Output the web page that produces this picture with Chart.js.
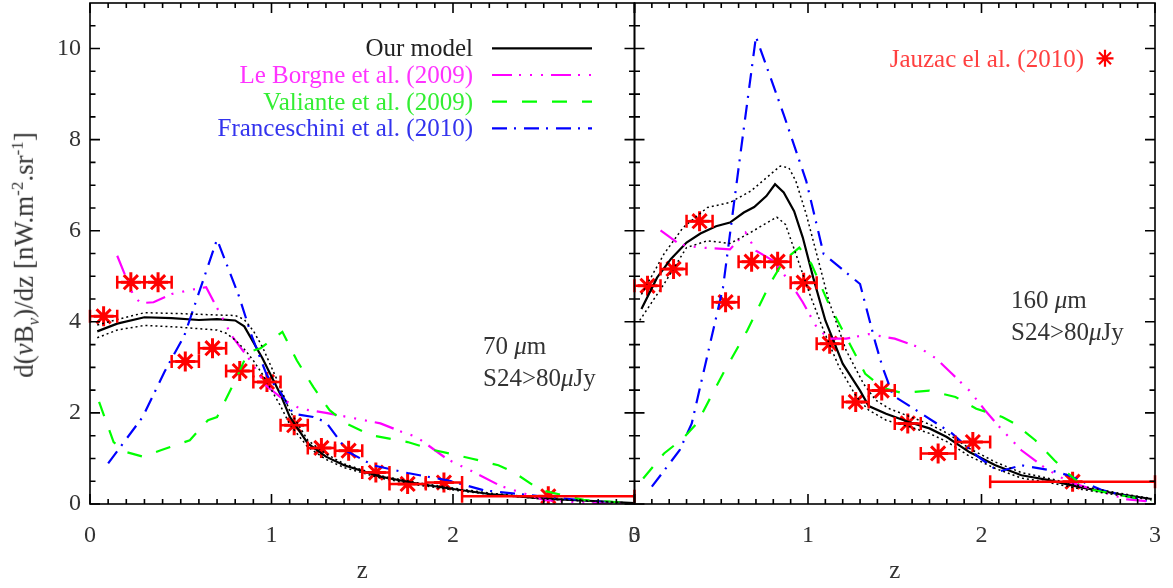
<!DOCTYPE html>
<html><head><meta charset="utf-8">
<script src="https://cdn.jsdelivr.net/npm/chart.js@4.4.0/dist/chart.umd.min.js"></script>
<style>
html,body{margin:0;padding:0;background:#fff;}
#wrap{position:relative;width:1173px;height:588px;overflow:hidden;background:#fff;}
#wrap canvas{position:absolute;left:0;top:0;}
#ylab{position:absolute;left:26px;top:255px;white-space:nowrap;font-family:"Liberation Serif",serif;font-size:27px;color:#333;
 transform:translate(-50%,-50%) rotate(-90deg);line-height:30px;}
#ylab sup,#ylab sub{font-size:17px;}
</style></head><body>
<div id="wrap">
<canvas id="c1" width="1173" height="588" style="width:1173px;height:588px"></canvas>
<canvas id="c2" width="1173" height="588" style="width:1173px;height:588px"></canvas>
<div id="ylab">d(<i>ν</i>B<sub><i>ν</i></sub>)/dz [nW.m<sup>-2</sup>.sr<sup>-1</sup>]</div>
</div>
<script>
// ---------- tick labels ----------
const xTickVals = [0, 1, 2, 3];
const yTickVals = [0, 2, 4, 6, 8, 10];

// ---------- Jauzac et al. (2010) observed points (bins in z) ----------
const binLo = [0.00,0.15,0.30,0.45,0.60,0.75,0.90,1.05,1.20,1.35,1.50,1.65,1.85,2.05];
const binHi = [0.15,0.30,0.45,0.60,0.75,0.90,1.05,1.20,1.35,1.50,1.65,1.85,2.05,3.00];
const zObs  = [0.075,0.225,0.375,0.525,0.675,0.825,0.975,1.125,1.275,1.425,1.575,1.75,1.95,2.525];
const obs70  = [4.12,4.87,4.87,3.13,3.42,2.92,2.68,1.73,1.23,1.17,0.69,0.44,0.47,0.17];
const obs160 = [4.79,5.16,6.21,4.43,5.32,5.32,4.86,3.52,2.24,2.49,1.77,1.11,1.36,0.49];

// ---------- 70 micron panel ----------
const model70Z = [0.04,0.15,0.3,0.45,0.6,0.7,0.8,0.85,0.9,0.95,1.0,1.05,1.1,1.2,1.3,1.4,1.6,1.8,2.0,2.2,2.5,2.8,3.0];
const model70  = [3.79,3.96,4.1,4.08,4.04,4.06,4.03,3.9,3.55,3.2,2.8,2.4,1.92,1.33,1.04,0.85,0.6,0.45,0.33,0.22,0.12,0.06,0.02];
const up70Z = [0.04,0.15,0.3,0.5,0.7,0.8,0.85,0.9,0.95,1.0,1.05,1.1,1.2,1.3,1.4,1.6,1.8,2.0,2.2,2.5,2.8,3.0];
const up70  = [3.93,4.05,4.2,4.18,4.15,4.14,4.05,3.8,3.45,3.0,2.55,2.05,1.4,1.1,0.88,0.62,0.47,0.35,0.24,0.13,0.06,0.02];
const lo70Z = [0.04,0.15,0.3,0.5,0.7,0.75,0.8,0.85,0.9,0.95,1.0,1.05,1.1,1.2,1.3,1.4,1.6,1.8,2.0,2.2,2.5,2.8,3.0];
const lo70  = [3.65,3.82,3.92,3.88,3.82,3.75,3.6,3.4,3.15,2.85,2.5,2.15,1.75,1.25,0.98,0.8,0.57,0.42,0.31,0.21,0.11,0.05,0.02];
const lb70Z = [0.15,0.24,0.28,0.35,0.45,0.58,0.64,0.78,0.89,0.97,1.07,1.16,1.3,1.42,1.6,1.72,1.8,1.97,2.13,2.26,2.5,2.7,2.95];
const lb70  = [5.45,4.57,4.41,4.43,4.61,4.72,4.76,3.7,3.11,2.6,2.28,2.09,2.0,1.91,1.77,1.58,1.47,0.98,0.67,0.4,0.09,0.03,0.0];
const va70Z = [0.05,0.13,0.2,0.29,0.39,0.55,0.65,0.7,0.81,0.87,0.94,1.06,1.14,1.23,1.32,1.42,1.55,1.75,1.9,2.1,2.25,2.33,2.48,2.72,2.95];
const va70  = [2.24,1.36,1.14,1.04,1.18,1.40,1.84,1.91,2.79,3.33,3.42,3.78,3.15,2.57,2.06,1.75,1.51,1.36,1.18,1.0,0.85,0.71,0.31,0.09,0.03];
const fr70Z = [0.1,0.29,0.41,0.52,0.7,0.82,0.89,0.975,1.05,1.12,1.23,1.3,1.42,1.56,1.75,1.97,2.17,2.5,2.87];
const fr70  = [0.89,1.91,2.9,3.7,5.81,4.57,3.7,2.82,2.45,1.98,1.91,1.80,1.15,0.85,0.68,0.52,0.3,0.16,0.03];

// ---------- 160 micron panel ----------
const model160Z = [0.04,0.13,0.21,0.3,0.38,0.47,0.55,0.63,0.69,0.76,0.81,0.86,0.92,0.97,1.03,1.1,1.2,1.3,1.35,1.45,1.58,1.7,1.8,1.93,2.08,2.23,2.38,2.58,2.79,2.98];
const model160  = [4.28,4.97,5.38,5.74,5.94,6.10,6.18,6.40,6.52,6.76,7.02,6.84,6.43,5.85,4.97,4.03,3.08,2.49,2.15,1.98,1.80,1.66,1.47,1.14,0.85,0.63,0.53,0.36,0.22,0.11];
const up160Z = [0.04,0.17,0.28,0.42,0.55,0.67,0.84,0.89,0.93,0.99,1.05,1.12,1.22,1.32,1.39,1.47,1.6,1.7,1.8,1.93,2.08,2.23,2.38,2.58,2.79,2.98];
const up160  = [4.6,5.49,6.07,6.51,6.62,6.87,7.42,7.38,7.09,6.36,5.49,4.46,3.37,2.64,2.28,2.09,1.9,1.75,1.56,1.22,0.92,0.69,0.57,0.39,0.24,0.12];
const lo160Z = [0.03,0.17,0.3,0.42,0.55,0.65,0.82,0.87,0.93,1.01,1.09,1.18,1.28,1.35,1.45,1.6,1.7,1.8,1.93,2.08,2.23,2.38,2.58,2.79,2.98];
const lo160  = [4.03,4.83,5.63,5.78,5.72,5.92,6.30,6.14,5.49,4.61,3.81,3.0,2.35,2.06,1.84,1.68,1.55,1.37,1.05,0.78,0.57,0.48,0.32,0.19,0.09];
const lb160Z = [0.15,0.26,0.38,0.55,0.64,0.7,0.8,0.89,0.97,1.05,1.12,1.22,1.35,1.5,1.64,1.74,1.83,1.93,2.02,2.12,2.23,2.37,2.5,2.69,2.84,2.98];
const lb160  = [6.01,5.70,5.63,5.59,5.96,5.56,5.34,4.90,4.43,3.88,3.63,3.63,3.73,3.63,3.44,3.19,2.86,2.49,2.06,1.62,1.18,0.78,0.49,0.27,0.10,0.05];
const va160Z = [0.05,0.17,0.28,0.36,0.51,0.65,0.78,0.86,0.95,1.02,1.12,1.24,1.33,1.43,1.54,1.7,1.85,1.97,2.12,2.19,2.31,2.42,2.5,2.6,2.79,2.98];
const va160  = [0.56,1.11,1.44,1.77,2.86,3.81,4.83,5.34,5.63,5.27,4.39,3.52,2.86,2.55,2.44,2.49,2.35,2.09,1.91,1.77,1.40,0.96,0.67,0.34,0.20,0.07];
const fr160Z = [0.1,0.26,0.33,0.51,0.61,0.7,0.86,0.99,1.09,1.3,1.39,1.43,1.49,1.64,1.83,1.98,2.1,2.23,2.4,2.5,2.69,2.98];
const fr160  = [0.38,1.18,1.77,4.75,7.67,10.26,8.55,7.09,5.49,4.83,3.52,3.0,2.38,2.02,1.55,1.04,0.71,0.85,0.74,0.63,0.31,0.04];

// ---------- legend ----------
const legendNames  = ['Our model','Le Borgne et al. (2009)','Valiante et al. (2009)','Franceschini et al. (2010)'];
const legendText   = ['#222222','#ff33ff','#33ee33','#3333ee'];
const lineColors   = ['#000000','#ff00ff','#00ff00','#0000ff'];
const lineDashes   = [[], [20,7,2,9,2,9,2,8], [15,15], [15,7,2,8]];
const obsName = 'Jauzac el al. (2010)';

const FONT = '"Liberation Serif", "Times New Roman", serif';
const pts = (zs, vs) => zs.map((z, i) => ({x: z, y: vs[i]}));

function lineDS(zs, vs, k, extra) {
  return Object.assign({data: pts(zs, vs), borderColor: lineColors[k], borderWidth: 2.2,
    borderDash: lineDashes[k], pointRadius: 0, fill: false, tension: 0}, extra || {});
}
function dotDS(zs, vs) {
  return {data: pts(zs, vs), borderColor: '#000', borderWidth: 1.5, borderDash: [2, 3],
    pointRadius: 0, fill: false, tension: 0};
}
function obsDS(vals) {
  return {data: pts(zObs, vals), showLine: false, pointStyle: 'star', pointRadius: 10,
    pointBorderColor: '#ff0000', pointBorderWidth: 3, borderColor: '#ff0000', backgroundColor: '#ff0000',
    errLo: binLo, errHi: binHi};
}

function drawRich(ctx, parts, x, y, size) {
  let cx = x;
  parts.forEach(([t, it]) => {
    ctx.font = (it ? 'italic ' : '') + size + 'px ' + FONT;
    ctx.fillText(t, cx, y);
    cx += ctx.measureText(t).width;
  });
}

const framePlugin = {
  id: 'frame',
  afterDraw(chart) {
    const {ctx, chartArea: a, scales: {x, y}} = chart;
    ctx.save();
    ctx.strokeStyle = '#000'; ctx.lineWidth = 1.6; ctx.setLineDash([]);
    ctx.strokeRect(a.left, a.top, a.right - a.left, a.bottom - a.top);
    ctx.beginPath();
    for (let i = 0; i <= 30; i++) {
      const v = i / 10, px = x.getPixelForValue(v);
      const L = (i % 10 === 0) ? 10 : 5;
      ctx.moveTo(px, a.bottom); ctx.lineTo(px, a.bottom - L);
      ctx.moveTo(px, a.top); ctx.lineTo(px, a.top + L);
    }
    for (let i = 0; i <= 21; i++) {
      const v = i / 2, py = y.getPixelForValue(v);
      const L = (i % 4 === 0) ? 10 : 5.5;
      ctx.moveTo(a.left, py); ctx.lineTo(a.left + L, py);
      ctx.moveTo(a.right, py); ctx.lineTo(a.right - L, py);
    }
    ctx.stroke();
    // x title
    ctx.fillStyle = '#333'; ctx.font = '25px ' + FONT; ctx.textAlign = 'center'; ctx.textBaseline = 'alphabetic';
    ctx.fillText('z', (a.left + a.right) / 2, 578);
    ctx.restore();
  }
};

const errPlugin = {
  id: 'errbars',
  afterDatasetsDraw(chart) {
    const {ctx, scales: {x, y}} = chart;
    ctx.save();
    ctx.strokeStyle = '#ff0000'; ctx.lineWidth = 2.5; ctx.setLineDash([]);
    chart.data.datasets.forEach(ds => {
      if (!ds.errLo) return;
      ds.data.forEach((p, i) => {
        const x1 = x.getPixelForValue(ds.errLo[i]), x2 = x.getPixelForValue(ds.errHi[i]);
        const py = y.getPixelForValue(p.y);
        ctx.beginPath();
        ctx.moveTo(x1, py); ctx.lineTo(x2, py);
        ctx.moveTo(x1, py - 6.5); ctx.lineTo(x1, py + 6.5);
        ctx.moveTo(x2, py - 6.5); ctx.lineTo(x2, py + 6.5);
        ctx.stroke();
      });
    });
    ctx.restore();
  }
};

const leftText = {
  id: 'leftText',
  afterDraw(chart) {
    const ctx = chart.ctx;
    ctx.save();
    ctx.textBaseline = 'alphabetic';
    const rows = [48.3, 75, 101.7, 128.3];
    legendNames.forEach((n, k) => {
      ctx.font = '25px ' + FONT; ctx.textAlign = 'right'; ctx.fillStyle = legendText[k];
      ctx.fillText(n, 473, rows[k] + 7.8);
      ctx.beginPath(); ctx.strokeStyle = lineColors[k]; ctx.lineWidth = 2.2; ctx.setLineDash(lineDashes[k]);
      ctx.moveTo(492, rows[k]); ctx.lineTo(592, rows[k]); ctx.stroke();
    });
    ctx.setLineDash([]);
    ctx.textAlign = 'left'; ctx.fillStyle = '#333';
    drawRich(ctx, [['70 ', false], ['μ', true], ['m', false]], 483, 354, 25);
    drawRich(ctx, [['S24>80', false], ['μ', true], ['Jy', false]], 483, 386, 25);
    ctx.restore();
  }
};

const rightText = {
  id: 'rightText',
  afterDraw(chart) {
    const ctx = chart.ctx;
    ctx.save();
    ctx.textBaseline = 'alphabetic';
    ctx.font = '25px ' + FONT; ctx.textAlign = 'right'; ctx.fillStyle = '#ff4040';
    ctx.fillText(obsName, 1084, 66.5);
    // legend star symbol
    const sx = 1105, sy = 58.3, r = 8.5;
    ctx.strokeStyle = '#ff0000'; ctx.lineWidth = 2.2; ctx.beginPath();
    for (let k = 0; k < 4; k++) {
      const ang = k * Math.PI / 4;
      ctx.moveTo(sx - r * Math.cos(ang), sy - r * Math.sin(ang));
      ctx.lineTo(sx + r * Math.cos(ang), sy + r * Math.sin(ang));
    }
    ctx.stroke();
    ctx.textAlign = 'left'; ctx.fillStyle = '#333';
    drawRich(ctx, [['160 ', false], ['μ', true], ['m', false]], 1011, 308, 25);
    drawRich(ctx, [['S24>80', false], ['μ', true], ['Jy', false]], 1011, 340, 25);
    ctx.restore();
  }
};

function makeChart(id, datasets, yWidth, rightPad, showY, extraPlugin) {
  return new Chart(document.getElementById(id), {
    type: 'line',
    data: {datasets},
    options: {
      responsive: false, animation: false, devicePixelRatio: 1,
      layout: {autoPadding: false, padding: {top: 3, right: rightPad, left: 0, bottom: 0}},
      plugins: {legend: {display: false}, tooltip: {enabled: false}},
      scales: {
        x: {type: 'linear', min: 0, max: 3,
            grid: {display: false, drawTicks: false}, border: {display: false},
            afterBuildTicks: s => { s.ticks = xTickVals.map(v => ({value: v})); },
            ticks: {padding: 17, font: {family: FONT, size: 24}, color: '#333', maxRotation: 0,
                    callback: v => String(v)},
            afterFit: s => { s.height = 84; s.paddingLeft = 0; s.paddingRight = 0; s.paddingTop = 0; s.paddingBottom = 0; }},
        y: {type: 'linear', min: 0, max: 11,
            grid: {display: false, drawTicks: false}, border: {display: false},
            afterBuildTicks: s => { s.ticks = yTickVals.map(v => ({value: v})); },
            ticks: {display: showY, padding: 9, font: {family: FONT, size: 24}, color: '#333',
                    callback: v => String(v)},
            afterFit: s => { s.width = yWidth; s.paddingLeft = 0; s.paddingRight = 0; s.paddingTop = 0; s.paddingBottom = 0; }}
      }
    },
    plugins: [framePlugin, errPlugin, extraPlugin]
  });
}

makeChart('c1', [
  dotDS(up70Z, up70), dotDS(lo70Z, lo70),
  lineDS(va70Z, va70, 2), lineDS(lb70Z, lb70, 1), lineDS(fr70Z, fr70, 3),
  lineDS(model70Z, model70, 0),
  obsDS(obs70)
], 90, 1173 - 634.5, true, leftText);

makeChart('c2', [
  dotDS(up160Z, up160), dotDS(lo160Z, lo160),
  lineDS(va160Z, va160, 2), lineDS(lb160Z, lb160, 1), lineDS(fr160Z, fr160, 3),
  lineDS(model160Z, model160, 0),
  obsDS(obs160)
], 634.5, 18, false, rightText);
</script>
</body></html>
